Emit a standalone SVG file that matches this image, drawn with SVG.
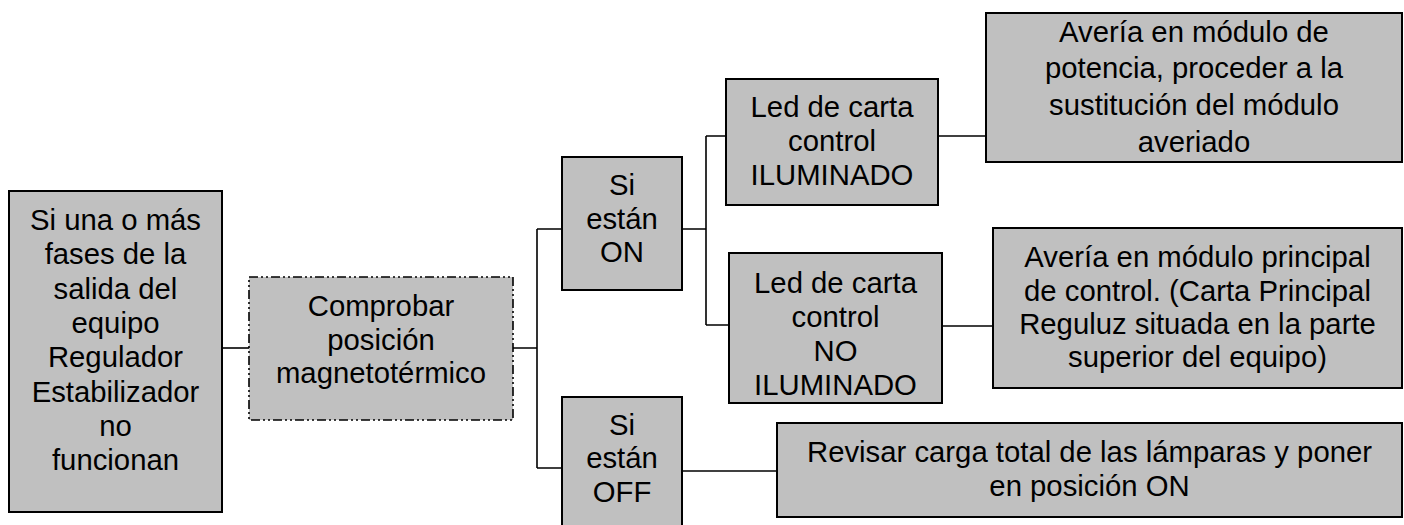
<svg xmlns="http://www.w3.org/2000/svg" width="1404" height="525" viewBox="0 0 1404 525">
<style>
.box{fill:#c0c0c0;stroke:#000;stroke-width:2}
.dash{fill:#c0c0c0;stroke:#000;stroke-width:1.6;stroke-dasharray:9 3 2 3 2 3}
.t{font-family:"Liberation Sans",Arial,sans-serif;font-size:29.3px;fill:#000;text-anchor:middle}
.c{fill:none;stroke:#000;stroke-width:1.6}
</style>
<rect width="1404" height="525" fill="#fff"/>
<g id="connectors">
<path class="c" d="M222 348H249"/>
<path class="c" d="M513 348H537M537 229V468M537 229H562M537 468H562"/>
<path class="c" d="M682 229H706M706 136V325M706 136H726M706 325H729"/>
<path class="c" d="M938 136H986"/>
<path class="c" d="M942 326H993"/>
<path class="c" d="M682 471H777"/>
</g>
<g id="n-start">
<rect class="box" x="9" y="191" width="213" height="321"/>
<text class="t" x="115.5" y="230">Si una o más</text>
<text class="t" x="115.5" y="264.3">fases de la</text>
<text class="t" x="115.5" y="298.6">salida del</text>
<text class="t" x="115.5" y="332.9">equipo</text>
<text class="t" x="115.5" y="367.2">Regulador</text>
<text class="t" x="115.5" y="401.5">Estabilizador</text>
<text class="t" x="115.5" y="435.8">no</text>
<text class="t" x="115.5" y="470">funcionan</text>
</g>
<g id="n-check">
<rect class="dash" x="249" y="277" width="264" height="143"/>
<text class="t" x="381" y="316">Comprobar</text>
<text class="t" x="381" y="349.5">posición</text>
<text class="t" x="381" y="383">magnetotérmico</text>
</g>
<g id="n-on">
<rect class="box" x="562" y="157" width="120" height="133"/>
<text class="t" x="622" y="195">Si</text>
<text class="t" x="622" y="229">están</text>
<text class="t" x="622" y="262">ON</text>
</g>
<g id="n-off">
<rect class="box" x="562" y="397" width="120" height="140"/>
<text class="t" x="622" y="435">Si</text>
<text class="t" x="622" y="468">están</text>
<text class="t" x="622" y="502">OFF</text>
</g>
<g id="n-led-on">
<rect class="box" x="726" y="79" width="212" height="126"/>
<text class="t" x="832" y="117">Led de carta</text>
<text class="t" x="832" y="151">control</text>
<text class="t" x="832" y="185">ILUMINADO</text>
</g>
<g id="n-led-off">
<rect class="box" x="729" y="253" width="213" height="150"/>
<text class="t" x="835.5" y="293">Led de carta</text>
<text class="t" x="835.5" y="327">control</text>
<text class="t" x="835.5" y="361">NO</text>
<text class="t" x="835.5" y="395">ILUMINADO</text>
</g>
<g id="n-potencia">
<rect class="box" x="986" y="13" width="416" height="149"/>
<text class="t" x="1194" y="42">Avería en módulo de</text>
<text class="t" x="1194" y="78">potencia, proceder a la</text>
<text class="t" x="1194" y="115">sustitución del módulo</text>
<text class="t" x="1194" y="152">averiado</text>
</g>
<g id="n-principal">
<rect class="box" x="993" y="228" width="409" height="160"/>
<text class="t" x="1197.5" y="267">Avería en módulo principal</text>
<text class="t" x="1197.5" y="301">de control. (Carta Principal</text>
<text class="t" x="1197.5" y="334">Reguluz situada en la parte</text>
<text class="t" x="1197.5" y="367">superior del equipo)</text>
</g>
<g id="n-revisar">
<rect class="box" x="777" y="423" width="625" height="94"/>
<text class="t" x="1089.5" y="462">Revisar carga total de las lámparas y poner</text>
<text class="t" x="1089.5" y="496">en posición ON</text>
</g>
</svg>
